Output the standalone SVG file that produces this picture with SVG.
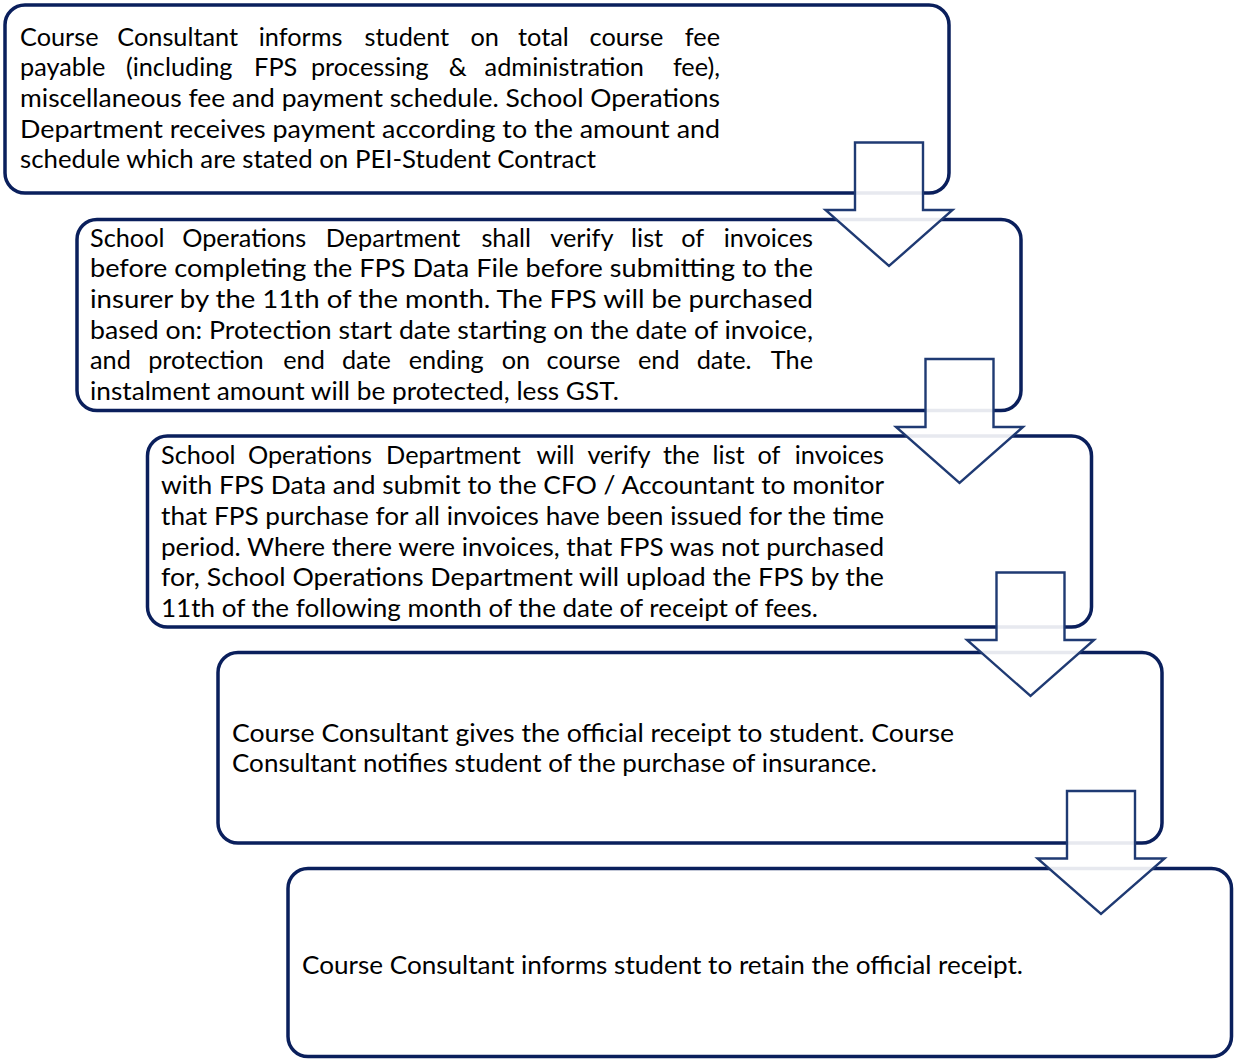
<svg xmlns="http://www.w3.org/2000/svg" width="1238" height="1059" viewBox="0 0 1238 1059">
<style>
.box{fill:#ffffff;stroke:#0a1f5c;stroke-width:3.5}
.arr{fill:#ffffff;fill-opacity:0.9;stroke:#1f3a73;stroke-width:2.4;stroke-linejoin:miter}
text{font-family:"Lato","Carlito","Open Sans","Liberation Sans",sans-serif;font-size:25.3px;fill:#000000}
.e{text-anchor:end}
</style>
<rect width="1238" height="1059" fill="#ffffff"/>
<g id="node1">
<rect class="box" x="5" y="5" width="944" height="188" rx="20"/>
<text y="45.5"><tspan x="20">Course </tspan><tspan x="117.3">Consultant </tspan><tspan x="258.8">informs </tspan><tspan x="364.5">student </tspan><tspan x="470.4">on </tspan><tspan x="518.1">total </tspan><tspan x="589.6">course </tspan><tspan class="e" x="720">fee</tspan></text>
<text y="76.2"><tspan x="20">payable </tspan><tspan x="125.9">(including </tspan><tspan x="254.1">FPS </tspan><tspan x="310.9">processing </tspan><tspan x="448.8">&amp; </tspan><tspan x="484.6">administration </tspan><tspan class="e" x="720">fee),</tspan></text>
<text x="20" y="106.8" textLength="700" lengthAdjust="spacingAndGlyphs">miscellaneous fee and payment schedule. School Operations</text>
<text x="20" y="137.5" textLength="700" lengthAdjust="spacingAndGlyphs">Department receives payment according to the amount and</text>
<text x="20" y="168.2" textLength="576" lengthAdjust="spacingAndGlyphs">schedule which are stated on PEI-Student Contract</text>
</g>
<g id="node2">
<rect class="box" x="77" y="219.5" width="944" height="191" rx="20"/>
<text y="246.5"><tspan x="90">School </tspan><tspan x="182.2">Operations </tspan><tspan x="325.7">Department </tspan><tspan x="481.4">shall </tspan><tspan x="550.2">verify </tspan><tspan x="631.1">list </tspan><tspan x="681.2">of </tspan><tspan class="e" x="813">invoices</tspan></text>
<text x="90" y="277.2" textLength="723" lengthAdjust="spacingAndGlyphs">before completing the FPS Data File before submitting to the</text>
<text x="90" y="307.9" textLength="723" lengthAdjust="spacingAndGlyphs">insurer by the 11th of the month. The FPS will be purchased</text>
<text x="90" y="338.6" textLength="723" lengthAdjust="spacingAndGlyphs">based on: Protection start date starting on the date of invoice,</text>
<text y="369.3"><tspan x="90">and </tspan><tspan x="148.2">protection </tspan><tspan x="283.2">end </tspan><tspan x="341.9">date </tspan><tspan x="408.7">ending </tspan><tspan x="501.7">on </tspan><tspan x="546.6">course </tspan><tspan x="638">end </tspan><tspan x="696.7">date. </tspan><tspan class="e" x="813">The</tspan></text>
<text x="90" y="400" textLength="529" lengthAdjust="spacingAndGlyphs">instalment amount will be protected, less GST.</text>
</g>
<g id="node3">
<rect class="box" x="147.5" y="436" width="944" height="191" rx="20"/>
<text y="463.5"><tspan x="161">School </tspan><tspan x="247.9">Operations </tspan><tspan x="386.1">Department </tspan><tspan x="536.5">will </tspan><tspan x="587.4">verify </tspan><tspan x="663">the </tspan><tspan x="712.6">list </tspan><tspan x="757.4">of </tspan><tspan class="e" x="884">invoices</tspan></text>
<text x="161" y="494.2" textLength="723" lengthAdjust="spacingAndGlyphs">with FPS Data and submit to the CFO / Accountant to monitor</text>
<text x="161" y="524.9" textLength="723" lengthAdjust="spacingAndGlyphs">that FPS purchase for all invoices have been issued for the time</text>
<text x="161" y="555.6" textLength="723" lengthAdjust="spacingAndGlyphs">period. Where there were invoices, that FPS was not purchased</text>
<text x="161" y="586.3" textLength="723" lengthAdjust="spacingAndGlyphs">for, School Operations Department will upload the FPS by the</text>
<text x="161" y="617" textLength="657" lengthAdjust="spacingAndGlyphs">11th of the following month of the date of receipt of fees.</text>
</g>
<g id="node4">
<rect class="box" x="218" y="652.5" width="944" height="190.5" rx="20"/>
<text x="232" y="741.5" textLength="722" lengthAdjust="spacingAndGlyphs">Course Consultant gives the official receipt to student. Course</text>
<text x="232" y="772.2" textLength="645" lengthAdjust="spacingAndGlyphs">Consultant notifies student of the purchase of insurance.</text>
</g>
<g id="node5">
<rect class="box" x="288" y="868.5" width="943.5" height="188" rx="20"/>
<text x="302" y="973.5" textLength="721" lengthAdjust="spacingAndGlyphs">Course Consultant informs student to retain the official receipt.</text>
</g>
<g id="connectors">
<polygon class="arr" points="855,142.5 923,142.5 923,210 952.5,210 889,266 825.5,210 855,210"/>
<polygon class="arr" points="925.5,359 993.5,359 993.5,427 1023,427 959.5,483 896,427 925.5,427"/>
<polygon class="arr" points="996.5,572.5 1064.5,572.5 1064.5,640 1094,640 1030.5,696 967,640 996.5,640"/>
<polygon class="arr" points="1067,791 1135,791 1135,858.5 1164.5,858.5 1101,914 1037.5,858.5 1067,858.5"/>
</g>
</svg>
